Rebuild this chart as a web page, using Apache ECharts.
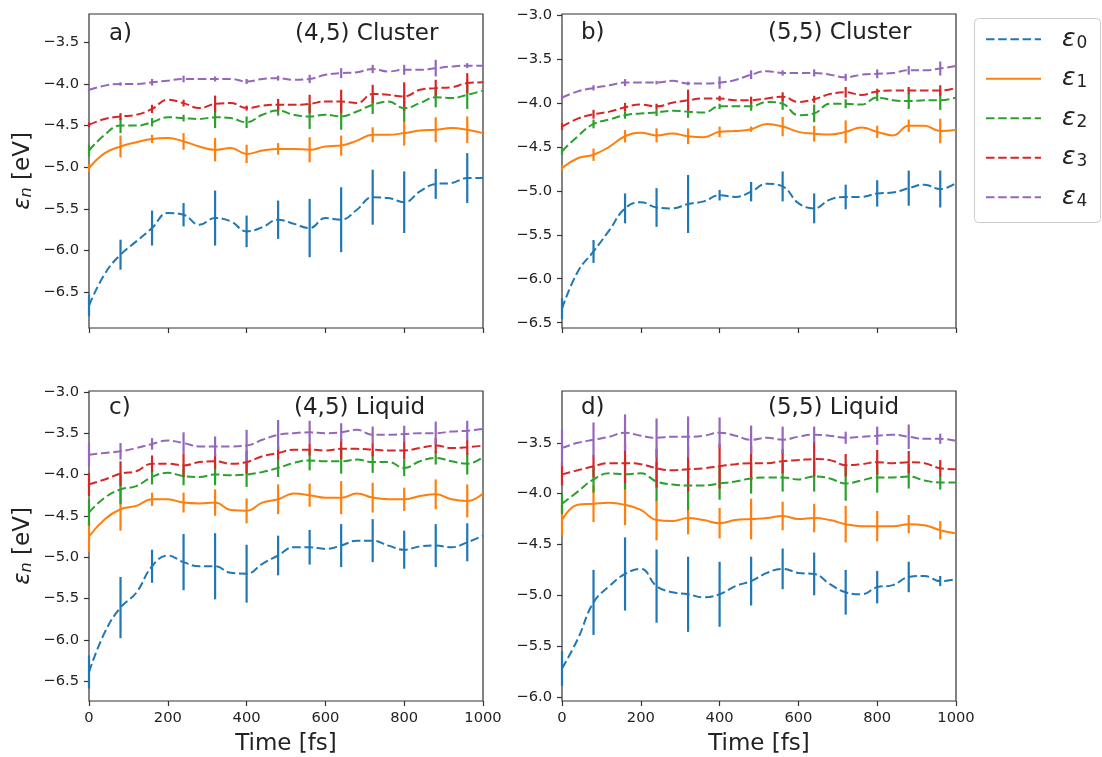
<!DOCTYPE html>
<html>
<head>
<meta charset="utf-8">
<script src="https://cdn.jsdelivr.net/npm/echarts@6/dist/echarts.min.js"></script>
<style>
  html, body { margin: 0; padding: 0; background: #ffffff; }
  #chart { width: 1102px; height: 757px; }
</style>
</head>
<body>
<div id="chart"></div>
<script>
// Sampling times of the smoothed orbital-energy curves (fs)
const time = [0, 40, 80, 120, 160, 200, 240, 280, 320, 360, 400, 440, 480,
              520, 560, 600, 640, 680, 720, 760, 800, 840, 880, 920, 960, 1000];
// Times at which the standard deviation is shown (fs)
const barTime = [0, 80, 160, 240, 320, 400, 480, 560, 640, 720, 800, 880, 960];

const levelNames = ['ε0', 'ε1', 'ε2', 'ε3', 'ε4'];
const levelColors = ['#1f77b4', '#ff7f0e', '#2ca02c', '#d62728', '#9467bd'];
const levelDashed = [true, false, true, true, true];

const xTicks = [0, 200, 400, 600, 800, 1000];
const yTicksA = [-6.5, -6.0, -5.5, -5.0, -4.5, -4.0, -3.5];
const yTicksB = [-6.5, -6.0, -5.5, -5.0, -4.5, -4.0, -3.5, -3.0];
const yTicksC = [-6.5, -6.0, -5.5, -5.0, -4.5, -4.0, -3.5, -3.0];
const yTicksD = [-6.0, -5.5, -5.0, -4.5, -4.0, -3.5];

// ---- a) (4,5) Cluster : energies [eV]
const clusterA_e0 = [-6.66,-6.28,-6.05,-5.89,-5.73,-5.55,-5.57,-5.69,-5.61,-5.65,-5.77,-5.72,-5.63,-5.68,-5.73,-5.61,-5.63,-5.51,-5.36,-5.37,-5.42,-5.29,-5.20,-5.19,-5.13,-5.13];
const clusterA_e1 = [-5.01,-4.83,-4.75,-4.70,-4.66,-4.65,-4.69,-4.75,-4.79,-4.77,-4.84,-4.80,-4.78,-4.78,-4.79,-4.75,-4.74,-4.68,-4.61,-4.61,-4.59,-4.56,-4.55,-4.53,-4.55,-4.59];
const clusterA_e2 = [-4.80,-4.61,-4.50,-4.50,-4.46,-4.40,-4.41,-4.42,-4.40,-4.41,-4.46,-4.37,-4.32,-4.37,-4.39,-4.37,-4.39,-4.33,-4.25,-4.21,-4.29,-4.23,-4.16,-4.17,-4.13,-4.08];
const clusterA_e3 = [-4.49,-4.42,-4.39,-4.37,-4.30,-4.19,-4.23,-4.29,-4.24,-4.23,-4.29,-4.26,-4.25,-4.25,-4.24,-4.21,-4.21,-4.23,-4.12,-4.13,-4.15,-4.07,-4.05,-4.04,-3.99,-3.98];
const clusterA_e4 = [-4.07,-4.02,-4.00,-4.00,-3.98,-3.96,-3.94,-3.94,-3.94,-3.94,-3.97,-3.94,-3.93,-3.95,-3.94,-3.89,-3.87,-3.86,-3.82,-3.85,-3.83,-3.83,-3.81,-3.79,-3.78,-3.78];
const clusterA_sd0 = [0.13,0.18,0.21,0.14,0.33,0.19,0.23,0.35,0.39,0.33,0.37,0.18,0.30];
const clusterA_sd1 = [0.05,0.13,0.05,0.10,0.14,0.11,0.07,0.15,0.12,0.09,0.15,0.15,0.16];
const clusterA_sd2 = [0.07,0.09,0.05,0.04,0.13,0.07,0.06,0.15,0.16,0.11,0.16,0.12,0.17];
const clusterA_sd3 = [0.03,0.04,0.05,0.04,0.10,0.03,0.07,0.11,0.14,0.11,0.17,0.10,0.12];
const clusterA_sd4 = [0.02,0.02,0.04,0.04,0.03,0.03,0.03,0.05,0.06,0.05,0.06,0.10,0.03];

// ---- b) (5,5) Cluster
const clusterB_e0 = [-6.34,-5.92,-5.69,-5.45,-5.20,-5.13,-5.19,-5.20,-5.15,-5.12,-5.05,-5.07,-5.01,-4.92,-4.95,-5.14,-5.20,-5.10,-5.07,-5.07,-5.03,-5.02,-4.97,-4.93,-4.98,-4.91];
const clusterB_e1 = [-4.74,-4.63,-4.59,-4.50,-4.38,-4.34,-4.37,-4.35,-4.38,-4.39,-4.33,-4.32,-4.30,-4.24,-4.27,-4.33,-4.35,-4.36,-4.33,-4.28,-4.33,-4.37,-4.26,-4.26,-4.32,-4.31];
const clusterB_e2 = [-4.55,-4.38,-4.24,-4.19,-4.14,-4.12,-4.11,-4.09,-4.10,-4.11,-4.04,-4.04,-4.04,-3.99,-4.01,-4.14,-4.12,-4.01,-4.01,-4.02,-3.94,-3.97,-3.98,-3.97,-3.97,-3.94];
const clusterB_e3 = [-4.27,-4.18,-4.13,-4.10,-4.05,-4.02,-4.04,-4.00,-3.97,-3.95,-3.95,-3.97,-3.97,-3.95,-3.93,-3.99,-3.96,-3.90,-3.88,-3.91,-3.87,-3.86,-3.86,-3.86,-3.86,-3.83];
const clusterB_e4 = [-3.94,-3.87,-3.83,-3.80,-3.77,-3.77,-3.77,-3.75,-3.78,-3.78,-3.77,-3.74,-3.68,-3.64,-3.66,-3.66,-3.66,-3.68,-3.71,-3.68,-3.67,-3.66,-3.63,-3.63,-3.61,-3.58];
const clusterB_sd0 = [0.12,0.13,0.17,0.22,0.33,0.06,0.11,0.17,0.17,0.14,0.15,0.20,0.21];
const clusterB_sd1 = [0.03,0.07,0.07,0.08,0.09,0.06,0.03,0.11,0.09,0.13,0.07,0.07,0.14];
const clusterB_sd2 = [0.04,0.05,0.04,0.04,0.07,0.03,0.05,0.07,0.10,0.05,0.04,0.09,0.11];
const clusterB_sd3 = [0.04,0.05,0.05,0.03,0.12,0.03,0.04,0.05,0.04,0.06,0.03,0.04,0.06];
const clusterB_sd4 = [0.03,0.03,0.04,0.02,0.02,0.07,0.05,0.03,0.04,0.04,0.05,0.05,0.08];

// ---- c) (4,5) Liquid
const liquidC_e0 = [-6.39,-5.91,-5.61,-5.43,-5.11,-4.98,-5.06,-5.11,-5.11,-5.19,-5.20,-5.08,-4.98,-4.88,-4.88,-4.90,-4.86,-4.80,-4.80,-4.86,-4.91,-4.87,-4.86,-4.88,-4.82,-4.74];
const liquidC_e1 = [-4.75,-4.54,-4.42,-4.38,-4.30,-4.30,-4.34,-4.35,-4.34,-4.43,-4.44,-4.34,-4.30,-4.23,-4.25,-4.28,-4.28,-4.23,-4.28,-4.30,-4.30,-4.26,-4.24,-4.30,-4.32,-4.23];
const liquidC_e2 = [-4.46,-4.28,-4.18,-4.14,-4.03,-3.98,-4.02,-4.03,-4.00,-4.01,-4.00,-3.97,-3.92,-3.86,-3.83,-3.84,-3.84,-3.82,-3.85,-3.85,-3.92,-3.84,-3.80,-3.84,-3.87,-3.79];
const liquidC_e3 = [-4.12,-4.06,-3.99,-3.96,-3.87,-3.87,-3.89,-3.85,-3.84,-3.87,-3.85,-3.78,-3.74,-3.70,-3.70,-3.71,-3.69,-3.69,-3.70,-3.71,-3.71,-3.68,-3.65,-3.68,-3.67,-3.65];
const liquidC_e4 = [-3.76,-3.74,-3.72,-3.68,-3.63,-3.59,-3.62,-3.66,-3.66,-3.66,-3.65,-3.58,-3.52,-3.50,-3.49,-3.50,-3.49,-3.46,-3.52,-3.52,-3.51,-3.50,-3.50,-3.48,-3.47,-3.45];
const liquidC_sd0 = [0.20,0.37,0.20,0.34,0.40,0.35,0.24,0.21,0.26,0.26,0.23,0.26,0.23];
const liquidC_sd1 = [0.19,0.26,0.08,0.12,0.16,0.15,0.18,0.14,0.20,0.18,0.14,0.18,0.20];
const liquidC_sd2 = [0.16,0.18,0.09,0.11,0.13,0.15,0.11,0.12,0.15,0.13,0.10,0.08,0.13];
const liquidC_sd3 = [0.14,0.15,0.10,0.14,0.09,0.14,0.08,0.07,0.12,0.08,0.11,0.09,0.09];
const liquidC_sd4 = [0.14,0.10,0.07,0.13,0.12,0.19,0.18,0.14,0.11,0.10,0.10,0.14,0.12];

// ---- d) (5,5) Liquid
const liquidD_e0 = [-5.72,-5.43,-5.07,-4.91,-4.79,-4.74,-4.91,-4.97,-4.99,-5.02,-4.99,-4.91,-4.86,-4.78,-4.74,-4.78,-4.79,-4.89,-4.97,-4.99,-4.92,-4.90,-4.82,-4.81,-4.86,-4.84];
const liquidD_e1 = [-4.26,-4.11,-4.10,-4.09,-4.11,-4.16,-4.26,-4.27,-4.24,-4.26,-4.29,-4.26,-4.25,-4.24,-4.22,-4.25,-4.24,-4.26,-4.30,-4.32,-4.32,-4.32,-4.30,-4.31,-4.36,-4.39];
const liquidD_e2 = [-4.10,-3.98,-3.86,-3.80,-3.81,-3.80,-3.88,-3.91,-3.92,-3.92,-3.90,-3.88,-3.85,-3.84,-3.84,-3.86,-3.83,-3.85,-3.90,-3.87,-3.84,-3.84,-3.83,-3.87,-3.89,-3.89];
const liquidD_e3 = [-3.81,-3.77,-3.73,-3.70,-3.70,-3.71,-3.75,-3.77,-3.76,-3.75,-3.73,-3.71,-3.70,-3.70,-3.68,-3.67,-3.66,-3.67,-3.72,-3.71,-3.69,-3.70,-3.69,-3.70,-3.75,-3.76];
const liquidD_e4 = [-3.55,-3.50,-3.47,-3.44,-3.40,-3.43,-3.45,-3.44,-3.44,-3.43,-3.40,-3.43,-3.47,-3.45,-3.47,-3.44,-3.42,-3.43,-3.45,-3.44,-3.43,-3.42,-3.44,-3.46,-3.46,-3.48];
const liquidD_sd0 = [0.17,0.32,0.36,0.36,0.37,0.32,0.24,0.20,0.21,0.22,0.16,0.15,0.05];
const liquidD_sd1 = [0.15,0.18,0.20,0.20,0.16,0.15,0.20,0.14,0.14,0.18,0.15,0.09,0.09];
const liquidD_sd2 = [0.10,0.13,0.15,0.19,0.24,0.16,0.15,0.14,0.15,0.17,0.15,0.12,0.07];
const liquidD_sd3 = [0.11,0.11,0.20,0.19,0.22,0.22,0.17,0.12,0.17,0.11,0.12,0.11,0.08];
const liquidD_sd4 = [0.18,0.17,0.18,0.19,0.20,0.15,0.14,0.13,0.08,0.06,0.09,0.12,0.05];

const FONT = "'DejaVu Sans', 'Noto Sans', sans-serif";
const INK = '#222222';
const FRAME = '#333333';

const panels = [
  { tag: 'a)', title: '(4,5) Cluster',
    levels: [clusterA_e0, clusterA_e1, clusterA_e2, clusterA_e3, clusterA_e4],
    sds: [clusterA_sd0, clusterA_sd1, clusterA_sd2, clusterA_sd3, clusterA_sd4],
    yMin: -6.93, yMax: -3.16, yTicks: yTicksA,
    box: { left: 89, top: 14, width: 394, height: 314 },
    tagAt: [109, 23], titleAt: [295, 23], showX: false, showYName: true },
  { tag: 'b)', title: '(5,5) Cluster',
    levels: [clusterB_e0, clusterB_e1, clusterB_e2, clusterB_e3, clusterB_e4],
    sds: [clusterB_sd0, clusterB_sd1, clusterB_sd2, clusterB_sd3, clusterB_sd4],
    yMin: -6.56, yMax: -2.99, yTicks: yTicksB,
    box: { left: 562, top: 14, width: 394, height: 314 },
    tagAt: [581, 22], titleAt: [768, 22], showX: false, showYName: false },
  { tag: 'c)', title: '(4,5) Liquid',
    levels: [liquidC_e0, liquidC_e1, liquidC_e2, liquidC_e3, liquidC_e4],
    sds: [liquidC_sd0, liquidC_sd1, liquidC_sd2, liquidC_sd3, liquidC_sd4],
    yMin: -6.74, yMax: -2.99, yTicks: yTicksC,
    box: { left: 89, top: 391, width: 394, height: 312 },
    tagAt: [109, 397], titleAt: [294, 397], showX: true, showYName: true },
  { tag: 'd)', title: '(5,5) Liquid',
    levels: [liquidD_e0, liquidD_e1, liquidD_e2, liquidD_e3, liquidD_e4],
    sds: [liquidD_sd0, liquidD_sd1, liquidD_sd2, liquidD_sd3, liquidD_sd4],
    yMin: -6.04, yMax: -2.99, yTicks: yTicksD,
    box: { left: 562, top: 391, width: 394, height: 312 },
    tagAt: [581, 397], titleAt: [768, 397], showX: true, showYName: false }
];

const minusFmt = v => (v < 0 ? '\u2212' : '') + Math.abs(v).toFixed(1);
const plainFmt = v => String(v);
const dashPattern = [8.5, 3.7];

const option = {
  animation: false,
  backgroundColor: '#ffffff',
  textStyle: { fontFamily: FONT },
  grid: [], xAxis: [], yAxis: [], series: [], title: [],
  legend: {
    data: levelNames,
    orient: 'vertical',
    left: 985, top: 26.8,
    padding: 0,
    itemWidth: 55, itemHeight: 14,
    itemGap: 14.5,
    // line only, no marker in the key
    itemStyle: { color: 'transparent', borderColor: 'transparent', borderWidth: 0, opacity: 0 },
    formatter: name => '{g|ε}{s|' + name.slice(1) + '}',
    textStyle: {
      color: INK,
      rich: {
        g: { fontFamily: FONT, fontSize: 25, fontStyle: 'italic', lineHeight: 30, padding: [0, 0, 0, 16], color: INK },
        s: { fontFamily: FONT, fontSize: 17, lineHeight: 22, padding: [8, 0, 0, 1], color: INK }
      }
    }
  },
  graphic: [{
    type: 'rect', z: -1, silent: true,
    shape: { x: 974.5, y: 18.5, width: 126, height: 204, r: 4 },
    style: { fill: '#ffffff', stroke: '#cccccc', lineWidth: 1 }
  }]
};

panels.forEach((p, i) => {
  option.grid.push(Object.assign({ show: true, borderColor: FRAME, borderWidth: 1.2, backgroundColor: 'transparent' }, p.box));

  option.xAxis.push({
    type: 'value', gridIndex: i, min: 0, max: 1000, interval: 200,
    axisLine: { show: false },
    axisTick: { show: true, inside: false, length: 5, customValues: xTicks, lineStyle: { color: FRAME, width: 1.2 } },
    axisLabel: { show: p.showX, customValues: xTicks, formatter: plainFmt, margin: 10, color: INK, fontSize: 14.7, fontFamily: FONT },
    splitLine: { show: false },
    name: p.showX ? 'Time [fs]' : '',
    nameLocation: 'middle', nameGap: 32,
    nameTextStyle: { color: INK, fontSize: 23, fontFamily: FONT }
  });

  option.yAxis.push({
    type: 'value', gridIndex: i, min: p.yMin, max: p.yMax,
    axisLine: { show: false },
    axisTick: { show: true, inside: false, length: 5, customValues: p.yTicks, lineStyle: { color: FRAME, width: 1.2 } },
    axisLabel: { customValues: p.yTicks, formatter: minusFmt, margin: 10, color: INK, fontSize: 14.7, fontFamily: FONT },
    splitLine: { show: false },
    name: p.showYName ? '{g|ε}{s|n}{t| [eV]}' : '',
    nameLocation: 'middle', nameRotate: 90, nameGap: 52,
    nameTextStyle: {
      color: INK,
      rich: {
        g: { fontFamily: FONT, fontSize: 23, fontStyle: 'italic', lineHeight: 28, color: INK },
        s: { fontFamily: FONT, fontSize: 16, fontStyle: 'italic', lineHeight: 20, padding: [8, 0, 0, 0], color: INK },
        t: { fontFamily: FONT, fontSize: 23, lineHeight: 28, color: INK }
      }
    }
  });

  option.title.push({
    text: p.tag, left: p.tagAt[0], top: p.tagAt[1], padding: 0,
    textStyle: { fontFamily: FONT, fontSize: 23, fontWeight: 'normal', color: INK }
  });
  option.title.push({
    text: p.title, left: p.titleAt[0], top: p.titleAt[1], padding: 0,
    textStyle: { fontFamily: FONT, fontSize: 23, fontWeight: 'normal', color: INK }
  });

  p.levels.forEach((vals, n) => {
    const color = levelColors[n];
    option.series.push({
      type: 'line', name: levelNames[n], xAxisIndex: i, yAxisIndex: i,
      data: time.map((t, k) => [t, vals[k]]),
      smooth: 0.45, symbol: 'circle', showSymbol: false,
      itemStyle: { color: color },
      lineStyle: { color: color, width: 2, type: levelDashed[n] ? dashPattern : 'solid', cap: 'butt' },
      clip: true, silent: true
    });
    const sd = p.sds[n];
    option.series.push({
      type: 'custom', name: levelNames[n] + ' sd', xAxisIndex: i, yAxisIndex: i,
      clip: false, silent: true,
      data: barTime.map((t, k) => {
        const c = vals[time.indexOf(t)];
        return [t, c - sd[k], c + sd[k]];
      }),
      encode: { x: 0, y: [1, 2] },
      renderItem: (params, api) => {
        const lo = api.coord([api.value(0), api.value(1)]);
        const hi = api.coord([api.value(0), api.value(2)]);
        return {
          type: 'line',
          shape: { x1: lo[0], y1: lo[1], x2: hi[0], y2: hi[1] },
          style: { stroke: color, lineWidth: 2.2 }
        };
      }
    });
  });
});

const chart = echarts.init(document.getElementById('chart'), null, { renderer: 'canvas' });
chart.setOption(option);
</script>
</body>
</html>
